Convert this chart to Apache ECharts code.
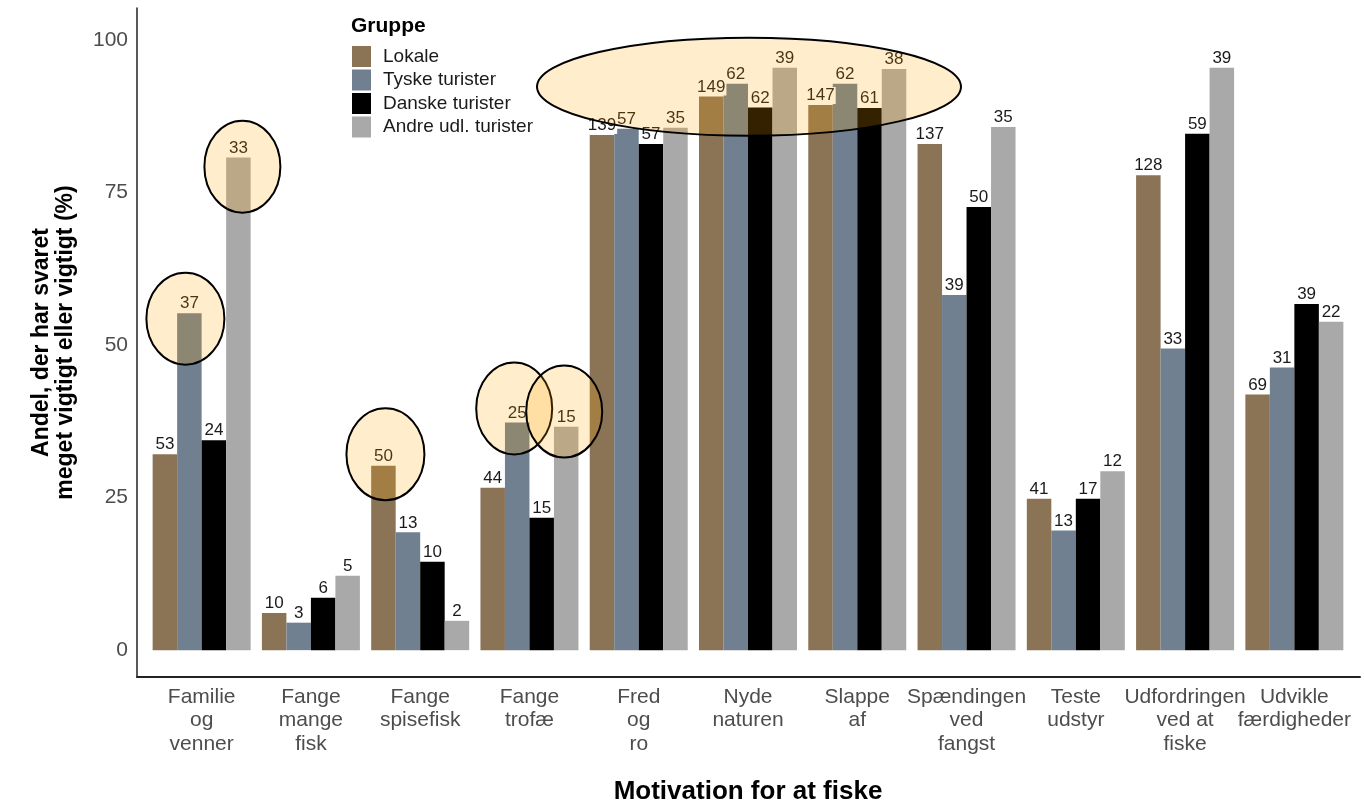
<!DOCTYPE html>
<html>
<head>
<meta charset="utf-8">
<script src="https://cdn.jsdelivr.net/npm/echarts@6/dist/echarts.min.js"></script>
<style>
  html, body { margin: 0; padding: 0; background: #fff; }
  #chart { width: 1364px; height: 802px; }
</style>
</head>
<body>
<div id="chart"></div>
<script>
const categories = [
  'Familie\nog\nvenner', 'Fange\nmange\nfisk', 'Fange\nspisefisk', 'Fange\ntrofæ',
  'Fred\nog\nro', 'Nyde\nnaturen', 'Slappe\naf', 'Spændingen\nved\nfangst',
  'Teste\nudstyr', 'Udfordringen\nved at\nfiske', 'Udvikle\nfærdigheder'
]
const groupNames = ['Lokale', 'Tyske turister', 'Danske turister', 'Andre udl. turister']

// share (%) answering "meget vigtigt" or "vigtigt"
const lokale = [32.1, 6.1, 30.2, 26.6, 84.4, 90.7, 89.3, 82.9, 24.8, 77.8, 41.9]
const tyske  = [55.2, 4.5, 19.3, 37.3, 85.4, 92.8, 92.8, 58.2, 19.6, 49.4, 46.3]
const danske = [34.4, 8.6, 14.5, 21.7, 82.9, 88.9, 88.8, 72.6, 24.8, 84.6, 56.7]
const andre  = [80.7, 12.2, 4.8, 36.6, 85.6, 95.4, 95.2, 85.7, 29.3, 95.4, 53.8]

// number of respondents (bar labels)
const lokaleN = [53, 10, 50, 44, 139, 149, 147, 137, 41, 128, 69]
const tyskeN  = [37, 3, 13, 25, 57, 62, 62, 39, 13, 33, 31]
const danskeN = [24, 6, 10, 15, 57, 62, 61, 50, 17, 59, 39]
const andreN  = [33, 5, 2, 15, 35, 39, 38, 35, 12, 39, 22]

const yTicks = [0, 25, 50, 75, 100]

// highlighted bars: category index, bar index (null = group centre), centre value
const highlights = [
  { cat: 0, bar: 1, value: 54.3, dx: -4, rx: 39, ry: 46 },
  { cat: 0, bar: 3, value: 79.2, dx: 4, rx: 38, ry: 46 },
  { cat: 2, bar: 0, value: 32.1, dx: 2, rx: 39, ry: 46 },
  { cat: 3, bar: 1, value: 39.6, dx: -3, rx: 38, ry: 46 },
  { cat: 3, bar: 3, value: 39.1, dx: -2, rx: 38, ry: 46 },
  { cat: 5, bar: null, value: 92.3, dx: 1, rx: 212, ry: 49 }
]

const colors = ['#8B7355', '#708090', '#000000', '#A9A9A9']
const valueSets = [lokale, tyske, danske, andre]
const countSets = [lokaleN, tyskeN, danskeN, andreN]
const FONT = 'Liberation Sans, Arial, sans-serif'
const BAR_W = 24.5
const Y_MIN = -4.4
const Y_MAX = 105.2

const chart = echarts.init(document.getElementById('chart'))

chart.setOption({
  animation: false,
  textStyle: { fontFamily: FONT },
  title: {
    text: 'Gruppe', left: 351, top: 16, padding: 0,
    textStyle: { fontSize: 21, fontWeight: 'bold', color: '#000', fontFamily: FONT }
  },
  legend: {
    data: groupNames,
    orient: 'vertical',
    left: 352, top: 46, padding: 0,
    icon: 'rect',
    itemWidth: 19, itemHeight: 21, itemGap: 2.5,
    textStyle: { fontSize: 19, color: '#1a1a1a', fontFamily: FONT, padding: [0, 0, 0, 7] }
  },
  grid: [
    { left: 137, right: 4, top: 8, bottom: 125, outerBoundsMode: 'none', containLabel: false },
    { left: 147, right: 15, top: 8, bottom: 125, outerBoundsMode: 'none', containLabel: false }
  ],
  xAxis: [
    {
      gridIndex: 0, type: 'value', min: 0, max: 1,
      axisLine: { show: true, onZero: false, lineStyle: { color: '#222', width: 2 } },
      axisTick: { show: false }, axisLabel: { show: false }, splitLine: { show: false }
    },
    {
      gridIndex: 1, type: 'category', data: categories,
      axisLine: { show: false }, axisTick: { show: false },
      axisLabel: { color: '#4D4D4D', fontSize: 21, lineHeight: 23.5, margin: 8, interval: 0, fontFamily: FONT },
      name: 'Motivation for at fiske',
      nameLocation: 'middle', nameGap: 102,
      nameTextStyle: { fontSize: 26, fontWeight: 'bold', color: '#000', fontFamily: FONT }
    }
  ],
  yAxis: [
    {
      gridIndex: 0, type: 'value', min: Y_MIN, max: Y_MAX,
      axisLine: { show: true, onZero: false, lineStyle: { color: '#222', width: 1.5 } },
      axisTick: { show: false }, splitLine: { show: false },
      axisLabel: {
        color: '#4D4D4D', fontSize: 21, margin: 9, fontFamily: FONT,
        customValues: yTicks
      },
      name: 'Andel, der har svaret\nmeget vigtigt eller vigtigt (%)',
      nameLocation: 'middle', nameGap: 59,
      nameTextStyle: { fontSize: 23, fontWeight: 'bold', color: '#000', lineHeight: 24, fontFamily: FONT }
    },
    {
      gridIndex: 1, type: 'value', min: Y_MIN, max: Y_MAX, show: false
    }
  ],
  series: groupNames.map((name, i) => ({
    name,
    type: 'bar',
    xAxisIndex: 1, yAxisIndex: 1,
    barWidth: BAR_W, barGap: '0%',
    itemStyle: { color: colors[i] },
    data: valueSets[i],
    label: {
      show: true, position: 'top', distance: 1,
      formatter: p => String(countSets[i][p.dataIndex]),
      fontSize: 17, color: '#1a1a1a', fontFamily: FONT,
      backgroundColor: '#fff', padding: [0, 1, 0, 1]
    }
  }))
})

// orange rings drawn on top, anchored to the bars they highlight
function placeHighlights() {
  const graphic = highlights.map(h => {
    const p = chart.convertToPixel({ gridIndex: 1 }, [h.cat, h.value])
    const off = h.bar === null ? 0 : (h.bar - 1.5) * BAR_W
    return {
      type: 'ellipse',
      shape: { cx: p[0] + off + h.dx, cy: p[1], rx: h.rx, ry: h.ry },
      style: { fill: 'rgba(255,165,0,0.2)', stroke: '#000', lineWidth: 2 },
      z: 100
    }
  })
  chart.setOption({ graphic })
}
placeHighlights()
</script>
</body>
</html>
